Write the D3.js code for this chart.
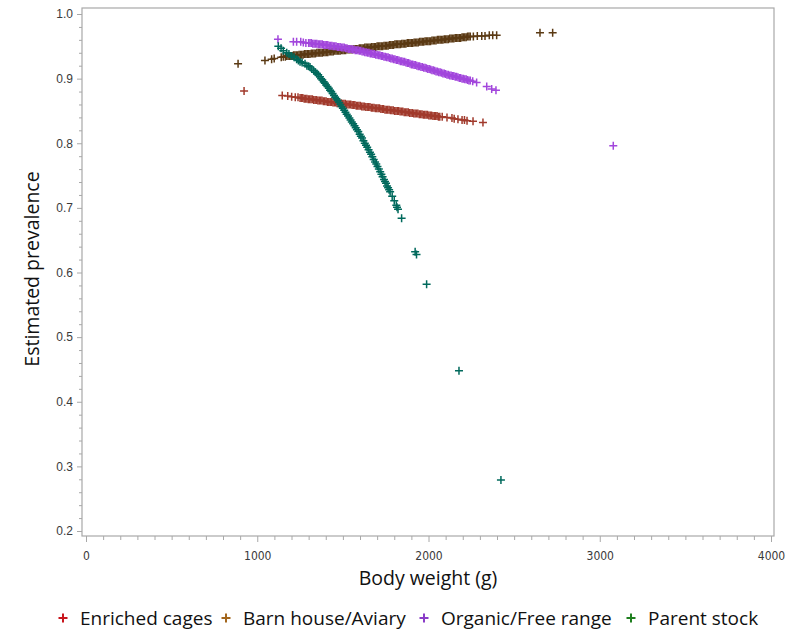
<!DOCTYPE html>
<html>
<head>
<meta charset="utf-8">
<script src="https://cdn.jsdelivr.net/npm/d3@7"></script>
<style>
  body { margin: 0; background: #fff; }
  svg { display: block; font-family: "Open Sans", "Noto Sans", sans-serif; }
</style>
</head>
<body>
<div id="chart"></div>
<script>
// Estimated prevalence vs body weight, one series per housing system

const groups = ['Enriched cages', 'Barn house/Aviary', 'Organic/Free range', 'Parent stock'];
const markColors = ['#a13a2c', '#5b3a14', '#a246dc', '#00695c'];
const legendColors = ['#c8161d', '#a3661c', '#8a3cc8', '#1f7f1f'];

const xTicks = [0, 1000, 2000, 3000, 4000];
const yTicks = [0.2, 0.3, 0.4, 0.5, 0.6, 0.7, 0.8, 0.9, 1.0];

// Enriched cages
const enrichedWeight = [923, 1146, 1178, 1201, 1222, 1238,
  1250, 1258, 1266, 1274, 1282, 1290, 1298, 1306, 1314, 1322, 1330, 1338, 1346, 1354, 1362, 1370, 1378,
  1386, 1394, 1402, 1410, 1418, 1426, 1434, 1442, 1450, 1458, 1466, 1474, 1482, 1490, 1498, 1506, 1514,
  1522, 1530, 1538, 1546, 1554, 1562, 1570, 1578, 1586, 1594, 1602, 1610, 1618, 1626, 1634, 1642, 1650,
  1658, 1666, 1674, 1682, 1690, 1698, 1706, 1714, 1722, 1730, 1738, 1746, 1754, 1762, 1770, 1778, 1786,
  1794, 1802, 1810, 1818, 1826, 1834, 1842, 1850, 1858, 1866, 1874, 1882, 1890, 1898, 1906, 1914, 1922,
  1930, 1938, 1946, 1954, 1962, 1970, 1978, 1986, 1994, 2002, 2010, 2018, 2026, 2034, 2042, 2050, 2058,
  2066, 2080, 2108, 2137, 2150, 2172, 2196, 2210, 2225, 2260, 2318];
const enrichedPrev = [.881, .874, .873, .872, .871, .871,
  .870, .870, .870, .869, .869, .869, .868, .868, .868, .868, .867, .867, .867, .866, .866, .866, .866,
  .865, .865, .865, .864, .864, .864, .864, .863, .863, .863, .862, .862, .862, .862, .861, .861, .861,
  .860, .860, .860, .860, .859, .859, .859, .858, .858, .858, .858, .857, .857, .857, .856, .856, .856,
  .856, .855, .855, .855, .854, .854, .854, .854, .853, .853, .853, .852, .852, .852, .852, .851, .851,
  .851, .850, .850, .850, .850, .849, .849, .849, .848, .848, .848, .848, .847, .847, .847, .846, .846,
  .846, .846, .845, .845, .845, .844, .844, .844, .844, .843, .843, .843, .842, .842, .842, .842, .841,
  .841, .841, .840, .839, .838, .837, .836, .836, .835, .834, .832];

// Barn house/Aviary
const barnWeight = [888, 1045, 1084, 1099, 1140, 1152, 1164, 1172,
  1180, 1188, 1196, 1204, 1212, 1220, 1228, 1236, 1244, 1252, 1260, 1268, 1276, 1284, 1292, 1300, 1308,
  1316, 1324, 1332, 1340, 1348, 1356, 1364, 1372, 1380, 1388, 1396, 1404, 1412, 1420, 1428, 1436, 1444,
  1452, 1460, 1468, 1476, 1484, 1492, 1500, 1508, 1516, 1524, 1532, 1540, 1548, 1556, 1564, 1572, 1580,
  1588, 1596, 1604, 1612, 1620, 1628, 1636, 1644, 1652, 1660, 1668, 1676, 1684, 1692, 1700, 1708, 1716,
  1724, 1732, 1740, 1748, 1756, 1764, 1772, 1780, 1788, 1796, 1804, 1812, 1820, 1828, 1836, 1844, 1852,
  1860, 1868, 1876, 1884, 1892, 1900, 1908, 1916, 1924, 1932, 1940, 1948, 1956, 1964, 1972, 1980, 1988,
  1996, 2004, 2012, 2020, 2028, 2036, 2044, 2052, 2060, 2068, 2076, 2084, 2092, 2100, 2108, 2116, 2124,
  2132, 2140, 2148, 2156, 2164, 2172, 2180, 2188, 2196, 2204, 2212, 2220, 2228, 2236, 2244,
  2262, 2285, 2311, 2330, 2355, 2375, 2398, 2651, 2725];
const barnPrev = [.923, .928, .930, .931, .933, .934, .934, .935,
  .935, .935, .935, .935, .936, .936, .936, .936, .937, .937, .937, .937, .938, .938, .938, .938, .938,
  .939, .939, .939, .939, .940, .940, .940, .940, .940, .941, .941, .941, .941, .942, .942, .942, .942,
  .943, .943, .943, .943, .943, .944, .944, .944, .944, .945, .945, .945, .945, .945, .946, .946, .946,
  .946, .947, .947, .947, .947, .948, .948, .948, .948, .948, .949, .949, .949, .949, .950, .950, .950,
  .950, .950, .951, .951, .951, .951, .952, .952, .952, .952, .953, .953, .953, .953, .953, .954, .954,
  .954, .954, .955, .955, .955, .955, .955, .956, .956, .956, .956, .957, .957, .957, .957, .958, .958,
  .958, .958, .958, .959, .959, .959, .959, .960, .960, .960, .960, .960, .961, .961, .961, .961, .962,
  .962, .962, .962, .963, .963, .963, .963, .963, .964, .964, .964, .964, .965, .965, .965,
  .965, .966, .966, .966, .967, .967, .967, .971, .971];

// Organic/Free range
const organicWeight = [1121, 1211, 1230, 1254, 1269, 1284,
  1300, 1308, 1316, 1324, 1332, 1340, 1348, 1356, 1364, 1372, 1380, 1388, 1396, 1404, 1412, 1420, 1428,
  1436, 1444, 1452, 1460, 1468, 1476, 1484, 1492, 1500, 1508, 1516, 1524, 1532, 1540, 1548, 1556, 1564,
  1572, 1580, 1588, 1596, 1604, 1612, 1620, 1628, 1636, 1644, 1652, 1660, 1668, 1676, 1684, 1692, 1700,
  1708, 1716, 1724, 1732, 1740, 1748, 1756, 1764, 1772, 1780, 1788, 1796, 1804, 1812, 1820, 1828, 1836,
  1844, 1852, 1860, 1868, 1876, 1884, 1892, 1900, 1908, 1916, 1924, 1932, 1940, 1948, 1956, 1964, 1972,
  1980, 1988, 1996, 2004, 2012, 2020, 2028, 2036, 2044, 2052, 2060, 2068, 2076, 2084, 2092, 2100, 2108,
  2116, 2124, 2132, 2140, 2148, 2156, 2164, 2172, 2180, 2188, 2196, 2204, 2212, 2220, 2228, 2236, 2244,
  2258, 2281, 2340, 2369, 2394, 3079];
const organicPrev = [.961, .957, .957, .957, .956, .955,
  .955, .955, .955, .954, .954, .954, .954, .953, .953, .953, .953, .952, .952, .952, .952, .951, .951,
  .951, .950, .950, .950, .949, .949, .949, .948, .948, .948, .947, .947, .946, .946, .946, .945, .945,
  .944, .944, .944, .943, .943, .942, .942, .941, .941, .940, .940, .939, .939, .938, .938, .937, .937,
  .936, .936, .935, .935, .934, .934, .933, .933, .932, .931, .931, .930, .930, .929, .929, .928, .927,
  .927, .926, .926, .925, .924, .924, .923, .922, .922, .921, .921, .920, .919, .919, .918, .918, .917,
  .917, .916, .915, .915, .914, .913, .913, .912, .911, .911, .910, .910, .909, .908, .908, .907, .906,
  .906, .905, .905, .904, .904, .903, .903, .902, .901, .901, .900, .900, .899, .899, .898, .897, .897,
  .896, .894, .888, .884, .882, .796];

// Parent stock
const parentWeight = [1123, 1139, 1152, 1172, 1185, 1200, 1215, 1230, 1240, 1250, 1262, 1279, 1290, 1300,
  1308, 1318, 1330, 1340, 1348, 1356, 1366, 1373, 1380, 1388, 1395, 1402, 1410, 1418, 1425, 1432, 1440,
  1448, 1455, 1462, 1470, 1478, 1485, 1492, 1500, 1508, 1515, 1522, 1530, 1538, 1545, 1552, 1560, 1568,
  1575, 1582, 1590, 1598, 1605, 1612, 1620, 1628, 1635, 1642, 1650, 1658, 1665, 1672, 1680, 1688, 1695,
  1702, 1710, 1718, 1725, 1732, 1740, 1746, 1752, 1758, 1764, 1770, 1776, 1788, 1800, 1812, 1816, 1822,
  1843, 1922, 1930, 1989, 2178, 2423];
const parentPrev = [.950, .947, .943, .940, .938, .935, .933, .930, .928, .926, .925, .923, .920, .919,
  .918, .915, .912, .910, .908, .906, .903, .900, .898, .895, .893, .890, .888, .885, .882, .880, .877,
  .874, .871, .869, .866, .863, .860, .857, .854, .851, .848, .845, .842, .839, .836, .833, .830, .827,
  .824, .821, .818, .814, .811, .808, .804, .800, .797, .794, .790, .786, .783, .779, .775, .771, .768,
  .764, .760, .756, .752, .748, .744, .741, .738, .734, .731, .728, .725, .718, .711, .704, .701, .698,
  .684, .632, .628, .582, .448, .279];

const seriesWeight = [enrichedWeight, barnWeight, organicWeight, parentWeight];
const seriesPrev = [enrichedPrev, barnPrev, organicPrev, parentPrev];

const W = 786, H = 632;
const frame = { left: 82, right: 774, top: 8, bottom: 536 };

const svg = d3.select('#chart').append('svg')
  .attr('width', W)
  .attr('height', H);

svg.append('rect').attr('width', W).attr('height', H).attr('fill', '#fff');

const x = d3.scaleLinear().domain([0, 4000]).range([86, 771]);
const y = d3.scaleLinear().domain([0.2, 1.0]).range([531, 14]);

// minor ticks
const xMinor = d3.range(0, 4001, 100).filter(v => v % 1000 !== 0);
const yMinor = d3.range(20, 101, 2).map(v => v / 100).filter(v => Math.round(v * 100) % 10 !== 0);

const axisColor = '#a8a8a8';
const labelColor = '#3a3a3a';

function styleAxis(g) {
  g.select('.domain').remove();
  g.selectAll('.tick line').attr('stroke', axisColor).attr('stroke-width', 1);
}

svg.append('g')
  .attr('transform', `translate(0,${frame.bottom})`)
  .call(d3.axisBottom(x).tickValues(xMinor).tickSize(4).tickFormat(''))
  .call(styleAxis);

svg.append('g')
  .attr('transform', `translate(0,${frame.bottom})`)
  .call(d3.axisBottom(x).tickValues(xTicks).tickSize(6).tickPadding(9).tickFormat(d3.format('d')))
  .call(styleAxis)
  .selectAll('text')
  .attr('fill', labelColor)
  .style('font-family', '"Liberation Sans Narrow", "DejaVu Sans Condensed", sans-serif')
  .style('font-stretch', 'condensed')
  .style('font-size', '12px');

svg.append('g')
  .attr('transform', `translate(${frame.left},0)`)
  .call(d3.axisLeft(y).tickValues(yMinor).tickSize(3).tickFormat(''))
  .call(styleAxis);

svg.append('g')
  .attr('transform', `translate(${frame.left},0)`)
  .call(d3.axisLeft(y).tickValues(yTicks).tickSize(5).tickPadding(4).tickFormat(d3.format('.1f')))
  .call(styleAxis)
  .selectAll('text')
  .attr('fill', labelColor)
  .style('font-size', '12px');

// plot frame
svg.append('rect')
  .attr('x', frame.left)
  .attr('y', frame.top)
  .attr('width', frame.right - frame.left)
  .attr('height', frame.bottom - frame.top)
  .attr('fill', 'none')
  .attr('stroke', axisColor)
  .attr('stroke-width', 1.2);

// markers
const plus = 'M-4,0H4M0,-4V4';
const marks = svg.append('g');
groups.forEach((name, i) => {
  const pts = seriesWeight[i].map((w, j) => ({ w: w, p: seriesPrev[i][j] }));
  marks.append('g')
    .selectAll('path')
    .data(pts)
    .enter()
    .append('path')
    .attr('d', plus)
    .attr('transform', d => `translate(${x(d.w)},${y(d.p)})`)
    .attr('fill', 'none')
    .attr('stroke', markColors[i])
    .attr('stroke-width', 1.5);
});

// axis titles
svg.append('text')
  .attr('x', 428)
  .attr('y', 585)
  .attr('text-anchor', 'middle')
  .attr('fill', '#111')
  .style('font-size', '19.5px')
  .text('Body weight (g)');

svg.append('text')
  .attr('transform', 'translate(39,269) rotate(-90)')
  .attr('text-anchor', 'middle')
  .attr('fill', '#111')
  .style('font-size', '19.5px')
  .text('Estimated prevalence');

// legend
const legendX = [63, 226, 424, 631];
const legend = svg.append('g');
groups.forEach((name, i) => {
  const g = legend.append('g').attr('transform', `translate(${legendX[i]},618)`);
  g.append('path')
    .attr('d', 'M-4.5,0H4.5M0,-4.5V4.5')
    .attr('stroke', legendColors[i])
    .attr('stroke-width', 2);
  g.append('text')
    .attr('x', 17)
    .attr('y', 7)
    .attr('fill', '#111')
    .style('font-size', '19px')
    .text(name);
});
</script>
</body>
</html>
